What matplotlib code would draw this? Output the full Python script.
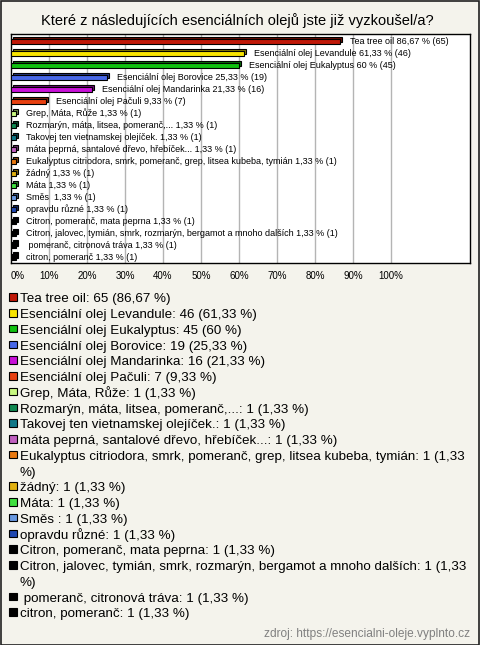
import textwrap
import matplotlib
matplotlib.use('Agg')
import matplotlib.pyplot as plt
from matplotlib.patches import Rectangle
from matplotlib.transforms import offset_copy

plt.rcParams['font.family'] = ['Liberation Sans', 'DejaVu Sans']

# --- data ---
answers = [
    'Tea tree oil',
    'Esenciální olej Levandule',
    'Esenciální olej Eukalyptus',
    'Esenciální olej Borovice',
    'Esenciální olej Mandarinka',
    'Esenciální olej Pačuli',
    'Grep, Máta, Růže',
    'Rozmarýn, máta, litsea, pomeranč,...',
    'Takovej ten vietnamskej olejíček.',
    'máta peprná, santalové dřevo, hřebíček...',
    'Eukalyptus citriodora, smrk, pomeranč, grep, litsea kubeba, tymián',
    'žádný',
    'Máta',
    'Směs ',
    'opravdu různé',
    'Citron, pomeranč, mata peprna',
    'Citron, jalovec, tymián, smrk, rozmarýn, bergamot a mnoho dalších',
    ' pomeranč, citronová tráva',
    'citron, pomeranč',
]
counts = [65, 46, 45, 19, 16, 7, 1, 1, 1, 1, 1, 1, 1, 1, 1, 1, 1, 1, 1]
percent = [86.67, 61.33, 60, 25.33, 21.33, 9.33, 1.33, 1.33, 1.33, 1.33,
           1.33, 1.33, 1.33, 1.33, 1.33, 1.33, 1.33, 1.33, 1.33]
percent_text = ['86,67', '61,33', '60', '25,33', '21,33', '9,33', '1,33',
                '1,33', '1,33', '1,33', '1,33', '1,33', '1,33', '1,33',
                '1,33', '1,33', '1,33', '1,33', '1,33']
colors = ['#c01808', '#f8e400', '#10c010', '#4868e8', '#c810d8', '#e84010',
          '#c8f880', '#108850', '#107888', '#c060c0', '#e87810', '#e0b010',
          '#40e040', '#6898e0', '#2048b0', '#000000', '#000000', '#000000',
          '#000000']
xticks = [0, 10, 20, 30, 40, 50, 60, 70, 80, 90, 100]

title = 'Které z následujících esenciálních olejů jste již vyzkoušel/a?'
source = 'zdroj: https://esencialni-oleje.vyplnto.cz'

W, H = 480, 645
bg = '#f4f3ec'

fig = plt.figure(figsize=(W / 100, H / 100), dpi=100, facecolor=bg)


def fx(px):
    return px / W


def fy(py):
    return 1 - py / H


# outer frame
fig.patches.append(Rectangle((0.5 / W, 0.5 / H), 1 - 1.5 / W, 1 - 1.5 / H,
                             transform=fig.transFigure, fill=False,
                             edgecolor='#202020', lw=1.2))

fig.text(0.494, fy(21), title, ha='center', va='center', fontsize=10.5)

ax = fig.add_axes([fx(11), fy(263), fx(470) - fx(11), fy(34) - fy(263)])
ax.set_facecolor('white')
for s in ax.spines.values():
    s.set_color('black')
    s.set_linewidth(1)

n = len(answers)
ypos = list(range(n))
ax.set_xlim(0, 120.8)
ax.set_ylim(n - 0.5, -0.6)

for t in xticks[1:]:
    ax.axvline(t, color='#b4b4b4', lw=1, zorder=0)

back = offset_copy(ax.transData, fig=fig, x=2, y=2, units='dots')
dark = [tuple(c * 0.55 for c in matplotlib.colors.to_rgb(col)) for col in colors]
ax.barh(ypos, percent, height=0.42, color=dark, edgecolor='black', lw=0.8,
        transform=back, zorder=2)
ax.barh(ypos, percent, height=0.42, color=colors, edgecolor='black', lw=0.8,
        zorder=3)

lab = offset_copy(ax.transData, fig=fig, x=10, y=0, units='dots')
for y, name, p, pt, c in zip(ypos, answers, percent, percent_text, counts):
    ax.text(p, y, f'{name} {pt} % ({c})', transform=lab, fontsize=6.5,
            va='center', ha='left', zorder=4)

ax.set_xticks(xticks)
ax.set_xticklabels([f'{t}%' for t in xticks], fontsize=7)
ax.tick_params(axis='x', length=0, pad=6)
ax.get_xticklabels()[0].set_ha('left')
ax.set_yticks([])

# legend
line_h = 15.75
base = 302.3
for name, c, pt, col in zip(answers, counts, percent_text, colors):
    text = f'{name}: {c} ({pt} %)'
    lines = textwrap.wrap(text, width=76, drop_whitespace=False) if len(text) > 76 else [text]
    fig.patches.append(Rectangle((fx(9), fy(base - 1.5)), 8 / W, 7.5 / H,
                                 transform=fig.transFigure, facecolor=col,
                                 edgecolor='black', lw=0.8))
    for i, ln in enumerate(lines):
        fig.text(fx(20), fy(base), ln.strip() if i else ln,
                 ha='left', va='baseline', fontsize=9.6)
        base += line_h

fig.text(fx(470), fy(637), source, ha='right', va='baseline', fontsize=8.6,
         color='#808080')

fig.savefig('out.png', dpi=100, facecolor=bg)
